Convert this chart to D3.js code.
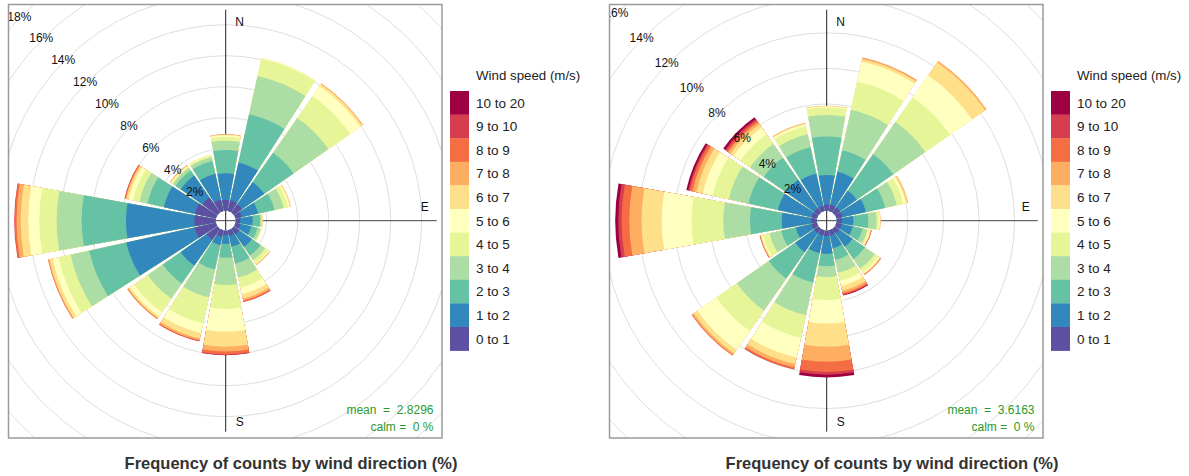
<!DOCTYPE html>
<html><head><meta charset="utf-8">
<script src="https://cdn.jsdelivr.net/npm/d3@7/dist/d3.min.js"></script>
<style>
body{margin:0;background:#fff;}
text{font-family:Arial,"Liberation Sans",sans-serif;}
</style>
</head><body>
<svg id="chart" width="1189" height="476"></svg>
<script>
// ---------------- data ----------------
const directions = [0,22.5,45,67.5,90,112.5,135,157.5,180,202.5,225,247.5,270,292.5,315,337.5];
const speedBins = ["0 to 1","1 to 2","2 to 3","3 to 4","4 to 5","5 to 6","6 to 7","7 to 8","8 to 9","9 to 10","10 to 20"];
const binColours = ["#5E4FA2","#3288BD","#66C2A5","#ABDDA4","#E6F598","#FFFFBF","#FEE08B","#FDAE61","#F46D43","#D53E4F","#9E0142"];

// percentage of counts per speed bin, one row per direction (left panel)
const freqLeft = [
  [0.69,1.72,1.51,0.60,0.25,0.09,0.04,0.02,0.01,0,0],
  [0.69,2.51,3.18,2.53,1.14,0.05,0.02,0,0,0,0],
  [0.65,1.75,2.29,2.75,1.71,0.80,0.15,0.07,0,0,0],
  [0.43,1.07,1.08,0.60,0.30,0.10,0.06,0.02,0,0,0],
  [0.28,0.82,0.47,0.09,0.04,0.02,0.02,0.01,0,0,0],
  [0.32,0.73,0.40,0.20,0.07,0.03,0.01,0,0,0,0],
  [0.43,0.99,0.68,0.35,0.25,0.05,0.05,0.02,0.01,0,0],
  [0.35,0.73,1.12,0.90,0.66,0.44,0.30,0.12,0.08,0.03,0],
  [0.28,0.57,0.90,1.75,1.55,1.47,0.96,0.32,0.18,0.04,0.01],
  [0.43,0.54,1.61,1.83,1.72,0.64,0.37,0.11,0.05,0.03,0],
  [0.86,2.04,1.40,1.18,1.08,0.32,0.12,0.05,0.05,0,0],
  [1.40,4.52,2.45,1.23,0.80,0.40,0.20,0.06,0.04,0,0],
  [1.38,4.41,2.86,1.61,1.12,0.71,0.49,0.27,0.12,0.03,0],
  [1.40,2.04,1.08,0.53,0.43,0.28,0.14,0.07,0.05,0.02,0],
  [1.18,1.72,0.40,0.20,0.10,0.05,0.05,0.02,0.01,0,0],
  [0.75,1.70,0.85,0.25,0.10,0.05,0.02,0,0,0,0]
];
// right panel
const freqRight = [
  [0.35,1.65,2.17,1.21,0.42,0.06,0.03,0.01,0,0,0],
  [0.35,1.90,1.25,2.32,1.63,1.15,0.15,0.07,0.01,0,0],
  [0.35,1.15,2.50,2.20,1.70,1.50,0.90,0.10,0,0,0],
  [0.35,1.35,1.10,0.67,0.38,0.15,0.08,0.05,0,0,0],
  [0.30,0.64,0.84,0.47,0.13,0.05,0.03,0.02,0,0,0],
  [0.30,0.64,0.56,0.28,0.10,0.05,0.04,0.03,0.02,0.01,0],
  [0.30,0.92,0.84,0.66,0.24,0.09,0.05,0.03,0.02,0.01,0],
  [0.30,0.73,0.67,0.74,0.46,0.29,0.28,0.13,0.08,0.04,0.03],
  [0.30,1.00,0.70,0.60,1.30,1.32,1.31,0.84,0.57,0.16,0.15],
  [0.30,1.01,1.69,1.88,1.31,1.13,0.37,0.19,0.09,0.03,0],
  [0.30,1.30,1.80,2.20,1.40,1.30,0.25,0.10,0.05,0,0],
  [0.30,0.92,0.84,0.66,0.38,0.09,0.05,0.03,0.02,0.01,0],
  [0.30,1.67,1.78,1.50,1.79,1.68,1.13,0.69,0.43,0.19,0.17],
  [0.30,1.95,1.69,1.13,0.93,0.57,0.37,0.23,0.15,0.09,0.11],
  [0.30,1.95,1.50,0.94,0.66,0.47,0.22,0.15,0.11,0.10,0.13],
  [0.30,1.86,1.50,0.75,0.47,0.11,0.05,0.04,0,0,0]
];
const ticksLeft = [2,4,6,8,10,12,14,16,18];
const ticksRight = [2,4,6,8,10,12,14,16];
const compassLabels = ["N","E","S"];
const meanLeft = "2.8296", meanRight = "3.6163";
const calmLeft = 0, calmRight = 0;
const legendTitle = "Wind speed (m/s)";
const mainTitle = "Frequency of counts by wind direction (%)";

// ---------------- drawing ----------------
const svg = d3.select("#chart");
const defs = svg.append("defs");

function drawRose(idx, dx, freq, ticks, meanTxt, calm){
  const P = {x0:8.5+dx, y0:4.5, x1:442+dx, y1:438, cx:225.7+dx, cy:220.7};
  const clipId = "clip"+idx;
  defs.append("clipPath").attr("id",clipId).append("rect")
    .attr("x",P.x0).attr("y",P.y0).attr("width",P.x1-P.x0).attr("height",P.y1-P.y0);

  const rows = freq.map((f,i)=>{const o={dir:directions[i]}; f.forEach((v,k)=>o[k]=v); return o;});
  const keys = d3.range(speedBins.length);
  const stacked = d3.stack().keys(keys)(rows);
  const maxTot = d3.max(rows, r=>d3.sum(keys, k=>r[k]));
  const r = d3.scaleLinear().domain([0,maxTot]).range([10,211.5]);
  const colour = d3.scaleOrdinal().domain(keys).range(binColours);

  const g = svg.append("g").attr("clip-path",`url(#${clipId})`);
  // grid circles
  g.selectAll("circle.grid").data(ticks).join("circle")
    .attr("cx",P.cx).attr("cy",P.cy).attr("r",d=>r(d))
    .attr("fill","none").attr("stroke","#dedede").attr("stroke-width",1);
  // axes
  const L = 211;
  g.append("line").attr("x1",P.cx).attr("x2",P.cx).attr("y1",P.cy-L).attr("y2",P.cy+L)
    .attr("stroke","#222").attr("stroke-width",1);
  g.append("line").attr("x1",P.cx-L).attr("x2",P.cx+L).attr("y1",P.cy).attr("y2",P.cy)
    .attr("stroke","#444").attr("stroke-width",1);

  // bars: each layer drawn from the hole to its cumulative top, outer layers first
  const half = 10.125*Math.PI/180;
  const arc = d3.arc();
  const bars = g.append("g").attr("transform",`translate(${P.cx},${P.cy})`);
  stacked.slice().reverse().forEach(series=>{
    bars.selectAll(null).data(series.filter(d=>d[1]-d[0]>0)).join("path")
      .attr("fill",colour(series.key))
      .attr("d",d=>{
        const a = d.data.dir*Math.PI/180;
        return arc({innerRadius:r(0),outerRadius:r(d[1]),startAngle:a-half,endAngle:a+half});
      });
  });

  // percentage labels along NW
  g.selectAll("text.tick").data(ticks).join("text")
    .attr("x",d=>P.cx - r(d)*Math.SQRT1_2 - 2).attr("y",d=>P.cy - r(d)*Math.SQRT1_2)
    .attr("text-anchor","middle").attr("dy","0.35em")
    .attr("font-size",12).attr("fill","#111").text(d=>d+"%");

  // compass labels
  const cpos = {N:[14,-199],E:[199,-14],S:[14,201]};
  compassLabels.forEach(c=>{
    g.append("text").attr("x",P.cx+cpos[c][0]).attr("y",P.cy+cpos[c][1]).attr("dy","0.35em")
      .attr("text-anchor","middle").attr("font-size",12).attr("fill","#111").text(c);
  });

  // mean / calm
  g.append("text").attr("x",P.x1-8.5).attr("y",414).attr("text-anchor","end")
    .attr("font-size",12).attr("fill","#2a9a2a").style("white-space","pre")
    .text("mean  =  "+meanTxt);
  g.append("text").attr("x",P.x1-8.5).attr("y",431).attr("text-anchor","end")
    .attr("font-size",12).attr("fill","#2a9a2a").style("white-space","pre")
    .text("calm =  "+calm+" %");

  // panel border
  svg.append("rect").attr("x",P.x0).attr("y",P.y0).attr("width",P.x1-P.x0).attr("height",P.y1-P.y0)
    .attr("fill","none").attr("stroke","#9a9a9a").attr("stroke-width",1.5);

  // legend
  const lx = P.x1+8, ly0 = 91, lh = 23.6;
  const lg = svg.append("g");
  lg.append("text").attr("x",lx+26).attr("y",75).attr("dy","0.35em")
    .attr("font-size",13.3).attr("fill","#222").text(legendTitle);
  const order = keys.slice().reverse();
  const ly = d3.scaleBand().domain(order).range([ly0, ly0+lh*order.length]);
  lg.selectAll("rect.leg").data(order).join("rect")
    .attr("x",lx).attr("y",d=>ly(d)).attr("width",19).attr("height",ly.bandwidth()+0.3)
    .attr("fill",d=>colour(d));
  lg.selectAll("text.leg").data(order).join("text")
    .attr("x",lx+26).attr("y",d=>ly(d)+ly.bandwidth()/2).attr("dy","0.35em")
    .attr("font-size",13.5).attr("fill","#222").text(d=>speedBins[d]);

  // main title
  svg.append("text").attr("x",291+dx).attr("y",469).attr("text-anchor","middle")
    .attr("font-size",16.5).attr("font-weight","bold").attr("fill","#333").text(mainTitle);
}

drawRose(0, 0, freqLeft, ticksLeft, meanLeft, calmLeft);
drawRose(1, 601, freqRight, ticksRight, meanRight, calmRight);
</script>
</body></html>
